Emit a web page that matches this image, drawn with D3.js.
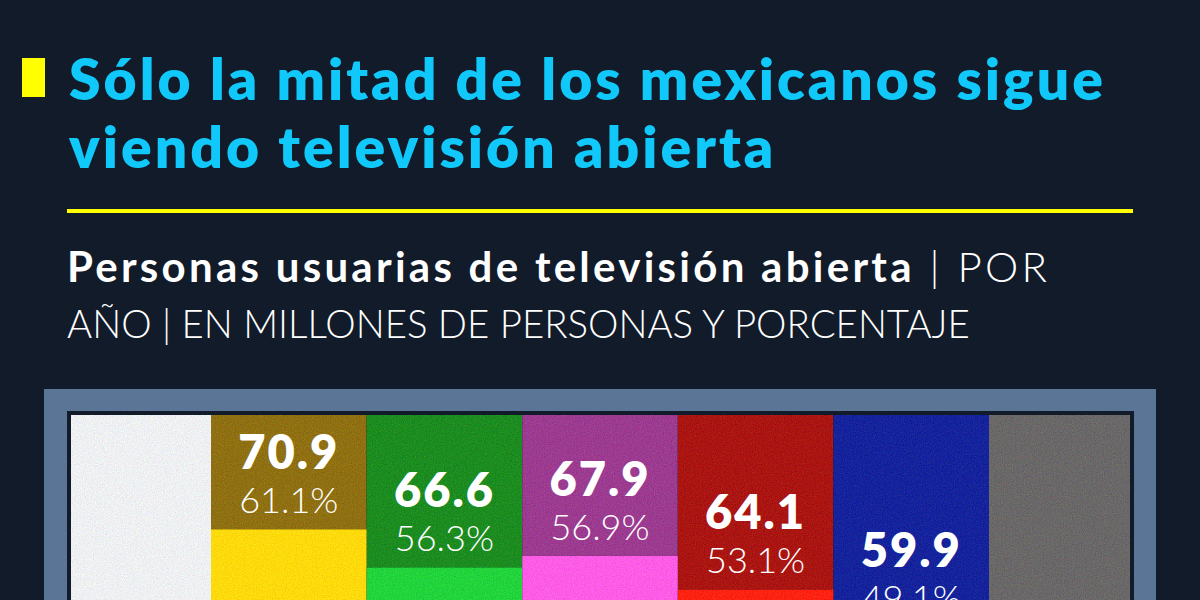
<!DOCTYPE html>
<html>
<head>
<meta charset="utf-8">
<script src="https://cdn.jsdelivr.net/npm/d3@7"></script>
<style>
  html, body { margin: 0; padding: 0; background: #111b29; overflow: hidden; }
  svg { display: block; }
  text { font-family: Lato, "Open Sans", sans-serif; }
</style>
</head>
<body>
<script>
// ---- data ----
const years = ["2019", "2020", "2021", "2022", "2023"];
const usuarios = [70.9, 66.6, 67.9, 64.1, 59.9];      // millones de personas
const porcentaje = [61.1, 56.3, 56.9, 53.1, 49.1];    // %
const titleLines = ["Sólo la mitad de los mexicanos sigue", "viendo televisión abierta"];
const subtitleBold = "Personas usuarias de televisión abierta";
const subtitleRest1 = " | POR";
const subtitleLine2 = "AÑO | EN MILLONES DE PERSONAS Y PORCENTAJE";

// ---- styles ----
const darkColors = ["#8f7012", "#1c8c20", "#9c3b90", "#aa1512", "#15239c"];
const brightColors = ["#ffda0c", "#22d43c", "#ff5ce6", "#ff2212", "#15239c"];
const sideColors = ["#eef0f2", "#6a6868"];

const W = 1200, H = 600;
const svg = d3.select("body").append("svg").attr("width", W).attr("height", H);
svg.append("rect").attr("width", W).attr("height", H).attr("fill", "#111b29");

// grain filter (zero-mean colour noise)
const defs = svg.append("defs");
const f = defs.append("filter").attr("id", "grain")
  .attr("x", 0).attr("y", 0).attr("width", "100%").attr("height", "100%")
  .attr("color-interpolation-filters", "sRGB");
f.append("feTurbulence").attr("type", "fractalNoise").attr("baseFrequency", 0.9)
  .attr("numOctaves", 2).attr("seed", 7).attr("stitchTiles", "stitch").attr("result", "noise");
f.append("feColorMatrix").attr("in", "noise").attr("type", "matrix")
  .attr("values", "1 0 0 0 0  0 1 0 0 0  0 0 1 0 0  0 0 0 0 1").attr("result", "noiseOpaque");
f.append("feComposite").attr("in", "SourceGraphic").attr("in2", "noiseOpaque")
  .attr("operator", "arithmetic").attr("k1", 0).attr("k2", 1).attr("k3", 0.24).attr("k4", -0.12);

// helper: stretch text to a target width with letter-spacing
function spread(sel, target) {
  const w = sel.node().getComputedTextLength();
  const n = sel.text().length;
  const ls = (target - w) / (n - 1);
  sel.attr("letter-spacing", ls.toFixed(2));
  return ls;
}

// ---- title ----
svg.append("rect").attr("x", 22).attr("y", 58).attr("width", 23).attr("height", 39).attr("fill", "#ffff00");
const t1 = svg.append("text").attr("x", 69).attr("y", 100).attr("font-size", 57)
  .attr("font-weight", 800).attr("fill", "#10c8fa").text(titleLines[0]);
const tls = spread(t1, 1034);
svg.append("text").attr("x", 69).attr("y", 168).attr("font-size", 57).attr("letter-spacing", tls.toFixed(2))
  .attr("font-weight", 800).attr("fill", "#10c8fa").text(titleLines[1]);

svg.append("rect").attr("x", 67).attr("y", 209).attr("width", 1066).attr("height", 4).attr("fill", "#ffff00");

// ---- subtitle ----
const s1 = svg.append("text").attr("x", 67).attr("y", 282).attr("font-size", 42).attr("fill", "#ffffff");
s1.append("tspan").attr("font-weight", 700).text(subtitleBold);
s1.append("tspan").attr("font-weight", 300).text(subtitleRest1);
spread(s1, 980);
const s2 = svg.append("text").attr("x", 67).attr("y", 338).attr("font-size", 40)
  .attr("font-weight", 300).attr("fill", "#ffffff").text(subtitleLine2);
{
  const w = s2.node().getComputedTextLength();
  s2.attr("font-size", (40 * 903 / w).toFixed(2));
}

// ---- TV frame ----
svg.append("rect").attr("x", 44).attr("y", 389).attr("width", 1112).attr("height", 400).attr("fill", "#5a7596");
svg.append("rect").attr("x", 67).attr("y", 411).attr("width", 1067).attr("height", 400).attr("fill", "#111b29");

const innerL = 71, innerR = 1130, innerTop = 415, innerBottom = H + 50;
const x = d3.scaleBand().domain(years).range([211, 989]).padding(0);
const y = d3.scaleLinear().domain([55, 75]).range([670, 493]);

const bars = svg.append("g").attr("filter", "url(#grain)");
// side columns
bars.append("rect").attr("x", innerL).attr("y", innerTop).attr("width", x(years[0]) - innerL)
  .attr("height", innerBottom - innerTop).attr("fill", sideColors[0]);
bars.append("rect").attr("x", x(years[years.length - 1]) + x.bandwidth()).attr("y", innerTop)
  .attr("width", innerR - x(years[years.length - 1]) - x.bandwidth())
  .attr("height", innerBottom - innerTop).attr("fill", sideColors[1]);

const data = years.map((yr, i) => ({ yr, v: usuarios[i], p: porcentaje[i], i }));
// dark top part
bars.selectAll("rect.dark").data(data).join("rect").attr("class", "dark")
  .attr("x", d => x(d.yr)).attr("y", innerTop).attr("width", x.bandwidth())
  .attr("height", d => y(d.v) - innerTop).attr("fill", d => darkColors[d.i]);
// bright bar (value)
bars.selectAll("rect.bright").data(data).join("rect").attr("class", "bright")
  .attr("x", d => x(d.yr)).attr("y", d => y(d.v)).attr("width", x.bandwidth())
  .attr("height", d => innerBottom - y(d.v)).attr("fill", d => brightColors[d.i]);

// labels
const lab = svg.append("g");
lab.selectAll("text.num").data(data).join("text").attr("class", "num")
  .attr("x", d => x(d.yr) + x.bandwidth() / 2).attr("y", d => y(d.v) - 60)
  .attr("text-anchor", "middle").attr("font-size", 47).attr("font-weight", 800)
  .attr("letter-spacing", 2)
  .attr("fill", "#ffffff").text(d => d.v.toFixed(1));
lab.selectAll("text.pct").data(data).join("text").attr("class", "pct")
  .attr("x", d => x(d.yr) + x.bandwidth() / 2).attr("y", d => y(d.v) - 16)
  .attr("text-anchor", "middle").attr("font-size", 36).attr("font-weight", 300)
  .attr("fill", "#ffffff").text(d => d.p.toFixed(1) + "%");
</script>
</body>
</html>
